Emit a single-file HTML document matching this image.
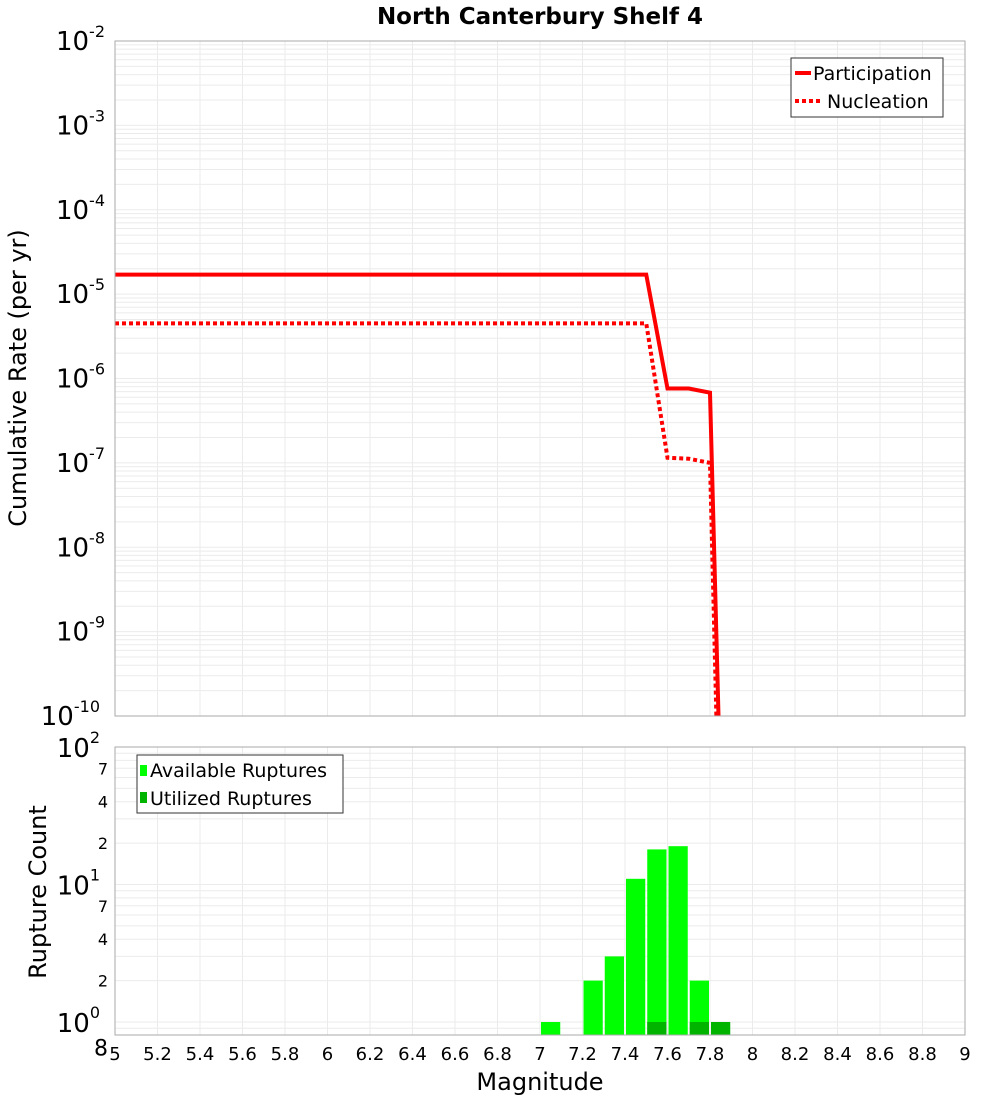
<!DOCTYPE html>
<html><head><meta charset="utf-8"><style>
body{margin:0;background:#fff;font-family:"Liberation Sans","DejaVu Sans",sans-serif}
svg text{font-family:"DejaVu Sans","Liberation Sans",sans-serif}
</style></head><body>
<svg id="c" width="1000" height="1100">
<text x="540" y="24" text-anchor="middle" font-size="23" font-weight="bold">North Canterbury Shelf 4</text>
<g id="g1"></g><g id="g2"></g>
</svg>
<script>
const mags=[5,7.5,7.6,7.7,7.8,7.84];
const partRates=[1.7e-5,1.7e-5,7.6e-7,7.6e-7,6.8e-7,1e-10];
const nuclMags=[5,7.5,7.6,7.7,7.8,7.83];
const nuclRates=[4.5e-6,4.5e-6,1.15e-7,1.12e-7,1.0e-7,1e-10];
const binStarts=[7.0,7.2,7.3,7.4,7.5,7.6,7.7];
const availCounts=[1,2,3,11,18,19,2];
const utilStarts=[7.5,7.7,7.8];
const utilCounts=[1,1,1];
const xTicks=[5,5.2,5.4,5.6,5.8,6,6.2,6.4,6.6,6.8,7,7.2,7.4,7.6,7.8,8,8.2,8.4,8.6,8.8,9];
const NS="http://www.w3.org/2000/svg";
const X0=115,X1=965;
const sx=m=>X0+(m-5)/4*(X1-X0);
const sy1=v=>41+(-2-Math.log10(v))*84.375;
const sy2=v=>1022-Math.log10(v)*137.5;
function mk(p,t,a){const e=document.createElementNS(NS,t);for(const k in a)e.setAttribute(k,a[k]);p.appendChild(e);return e;}
const g1=document.getElementById('g1'),g2=document.getElementById('g2');
for(let d=-10;d<-2;d++)for(let k=1;k<10;k++){const v=k*Math.pow(10,d);const y=sy1(v);
 const l=mk(g1,'line',{x1:X0,x2:X1,y1:y,y2:y,stroke:'#ebebeb','stroke-width':1});
 }
for(const t of xTicks){const l=mk(g1,'line',{x1:sx(t),x2:sx(t),y1:41,y2:716,stroke:'#ebebeb'});
 
 const l2=mk(g2,'line',{x1:sx(t),x2:sx(t),y1:747,y2:1035,stroke:'#ebebeb'});
 }
for(let d=-10;d<=-2;d++){const y=sy1(Math.pow(10,d));
 const t=mk(g1,'text',{x:d==-10?100:105,y:y+9,'text-anchor':'end','font-size':26});
 
 t.innerHTML='10<tspan dy="-13" font-size="16">'+d+'</tspan>';}
function poly(g,xs,ys,dash,name){const p=mk(g,'polyline',{points:xs.map((m,i)=>sx(m)+','+sy1(ys[i])).join(' '),fill:'none',stroke:'#ff0000','stroke-width':4});
 if(dash)p.setAttribute('stroke-dasharray','4,3');
 }
const clip=mk(g1,'clipPath',{id:'cp1'});mk(clip,'rect',{x:X0,y:41,width:X1-X0,height:675});
const lg=mk(g1,'g',{'clip-path':'url(#cp1)'});
poly(lg,mags,partRates,false,'participation-line');
poly(lg,nuclMags,nuclRates,true,'nucleation-line');
const f1=mk(g1,'rect',{x:X0,y:41,width:X1-X0,height:675,fill:'none',stroke:'#aaa'});

const t1=mk(g1,'text',{x:26,y:378,'text-anchor':'middle','font-size':24,transform:'rotate(-90 26 378)'});
t1.textContent='Cumulative Rate (per yr)';
const lb=mk(g1,'rect',{x:791,y:58,width:152,height:59,fill:'#fff',stroke:'#333'});

mk(g1,'line',{x1:795,x2:811,y1:73,y2:73,stroke:'#f00','stroke-width':4});
mk(g1,'line',{x1:795,x2:822,y1:101,y2:101,stroke:'#f00','stroke-width':4,'stroke-dasharray':'4,3'});
let e=mk(g1,'text',{x:813,y:80,'font-size':19});e.textContent='Participation';
e=mk(g1,'text',{x:827,y:108,'font-size':19});e.textContent='Nucleation';
for(let d=-1;d<2;d++)for(let k=1;k<10;k++){const v=k*Math.pow(10,d);const y=sy2(v);if(y>1035||y<747)continue;
 const l=mk(g2,'line',{x1:X0,x2:X1,y1:y,y2:y,stroke:'#ebebeb'});}
for(const [v,lab] of [[0.8,'8'],[2,'2'],[4,'4'],[7,'7'],[20,'2'],[40,'4'],[70,'7']]){
 const t=mk(g2,'text',{x:108,y:sy2(v)+(v==0.8?20:6),'text-anchor':'end','font-size':v==0.8?22:16});
 t.textContent=lab;}
for(let d=0;d<=2;d++){const t=mk(g2,'text',{x:100,y:sy2(Math.pow(10,d))+10,'text-anchor':'end','font-size':26});
 
 t.innerHTML='10<tspan dy="-14" font-size="16">'+d+'</tspan>';}
const B=sy2(0.8);
binStarts.forEach((s,i)=>{const r=mk(g2,'rect',{x:sx(s)+1,y:sy2(availCounts[i]),width:sx(s+0.1)-sx(s)-2,height:B-sy2(availCounts[i]),fill:'#00ff00'});
 });
utilStarts.forEach((s,i)=>{const r=mk(g2,'rect',{x:sx(s)+1,y:sy2(utilCounts[i]),width:sx(s+0.1)-sx(s)-2,height:B-sy2(utilCounts[i]),fill:'#00b400'});
 });
const f2=mk(g2,'rect',{x:X0,y:747,width:X1-X0,height:288,fill:'none',stroke:'#aaa'});

xTicks.forEach(t=>{const e=mk(g2,'text',{x:sx(t),y:1060,'text-anchor':'middle','font-size':18});
 e.textContent=String(t);});
e=mk(g2,'text',{x:540,y:1090,'text-anchor':'middle','font-size':24});e.textContent='Magnitude';
e=mk(g2,'text',{x:46,y:892,'text-anchor':'middle','font-size':24,transform:'rotate(-90 46 892)'});e.textContent='Rupture Count';
const lb2=mk(g2,'rect',{x:137,y:755,width:206,height:58,fill:'#fff',stroke:'#333'});

mk(g2,'rect',{x:140,y:765,width:7,height:11,fill:'#00ff00'});
mk(g2,'rect',{x:140,y:792,width:7,height:11,fill:'#00b400'});
e=mk(g2,'text',{x:150,y:777,'font-size':19});e.textContent='Available Ruptures';
e=mk(g2,'text',{x:150,y:805,'font-size':19});e.textContent='Utilized Ruptures';
</script>
</body></html>
